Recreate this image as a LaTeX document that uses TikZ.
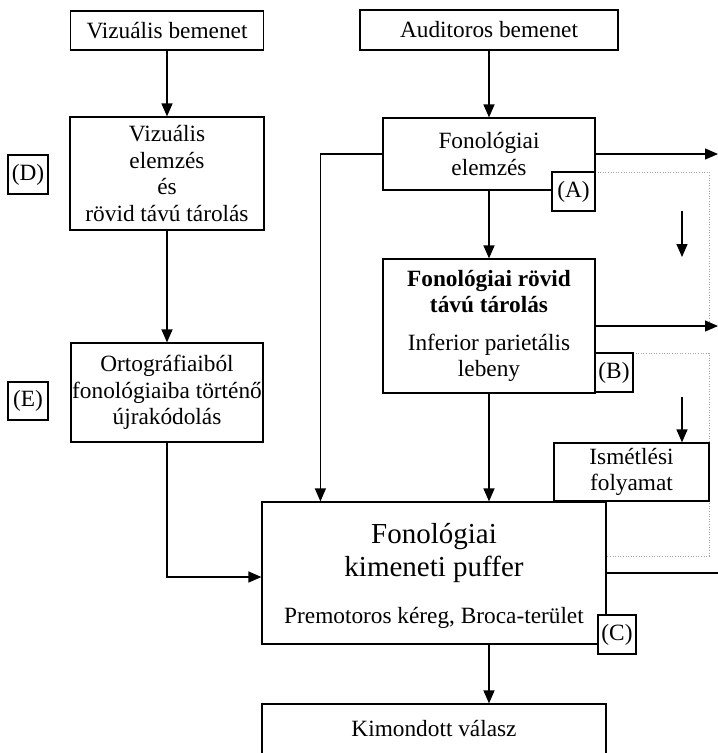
\documentclass[tikz,border=0pt]{standalone}
\usepackage{fontspec}
\setmainfont{Liberation Serif}
\usetikzlibrary{arrows.meta}
\newcommand\fsN{\fontsize{23.3}{26.5}\selectfont}
\newcommand\fsB{\fontsize{29}{33}\selectfont}
\tikzset{
  box/.style={draw, line width=1.2pt, fill=white, inner sep=0pt, align=center, font=\fsN},
  lbl/.style={draw, line width=1.2pt, fill=white, inner sep=0pt, align=center, font=\fsN, minimum width=39pt, minimum height=39pt},
  txt/.style={inner sep=0pt, align=center},
  arr/.style={line width=1.3pt, -{Triangle[length=13pt,width=11pt]}},
  ln/.style={line width=1.3pt},
  dot/.style={line width=0.9pt, gray!70, dash pattern=on 1pt off 1.6pt}
}
\begin{document}
\begin{tikzpicture}[x=1pt,y=-1pt]
\useasboundingbox (0,0) rectangle (718,753);
% coordinates for free ends
\coordinate (outA) at (718,154);
\coordinate (outB) at (718,326);
\coordinate (outC) at (718,573);
\coordinate (dA) at (709,322);
\coordinate (dB) at (709,556);
\coordinate (r1s) at (682,211);
\coordinate (r1e) at (682,257);
\coordinate (r2s) at (682,397);
% dotted feedback lines
\coordinate (dAs) at (595,172);
\coordinate (dBs) at (633,353);
\draw[dot] (dAs) -| (dA);
\draw[dot] (dBs) -| (dB) -- (dB -| 606,0);
% boxes
\node[box, minimum width=193pt, minimum height=39pt] (vin) at (167,30.5) {Vizuális bemenet};
\node[box, minimum width=194pt, minimum height=113pt] (van) at (167,173.5) {Vizuális\\elemzés\\és\\rövid távú tárolás};
\node[box, minimum width=192pt, minimum height=99pt] (orto) at (167,392.5) {Ortográfiaiból\\fonológiaiba történő\\újrakódolás};
\node[box, minimum width=258pt, minimum height=40pt] (ain) at (489,30) {Auditoros bemenet};
\node[box, minimum width=212pt, minimum height=72pt] (fel) at (489,154) {Fonológiai\\elemzés};
\node[box, minimum width=212pt, minimum height=134pt] (frt) at (489,326) {\textbf{Fonológiai rövid}\\\textbf{távú tárolás}\\[11pt]Inferior parietális\\lebeny};
\node[box, minimum width=155pt, minimum height=58pt] (ism) at (631.5,472) {Ismétlési\\folyamat};
\node[box, minimum width=344pt, minimum height=142pt] (puf) at (434,573) {};
\node[txt, font=\fsB] (puft) at (434,553) {Fonológiai\\kimeneti puffer};
\node[txt, font=\fsN] (pufs) at (434,618) {Premotoros kéreg, Broca-terület};
\node[box, minimum width=344pt, minimum height=50pt] (kim) at (434,729) {Kimondott válasz};
% letter labels
\node[lbl, minimum width=43pt] (lA) at (573.5,191.5) {(A)};
\node[lbl, minimum width=38pt] (lB) at (614,372.5) {(B)};
\node[lbl, minimum width=38pt] (lC) at (617,634.5) {(C)};
\node[lbl, minimum width=40pt] (lD) at (28,174.5) {(D)};
\node[lbl, minimum width=40pt, minimum height=38pt] (lE) at (28,401) {(E)};
% connectors
\draw[arr] (vin) -- (van);
\draw[arr] (van) -- (orto);
\draw[arr] (orto.south) |- ([yshift=-4pt]puf.west);
\draw[arr] (ain) -- (fel);
\draw[arr] (fel) -- (frt);
\draw[arr] (frt.south) -- (frt.south |- puf.north);
\draw[arr] (fel.west) -| ([xshift=59pt]puf.north west);
\draw[arr] (fel.east) -- (outA);
\draw[arr] (frt.east) -- (outB);
\draw[ln] (puf.east) -- (outC);
\draw[arr] ([xshift=55pt]puf.south) -- ([xshift=55pt]kim.north);
\draw[arr] (r1s) -- (r1e);
\draw[arr] (r2s) -- (r2s |- ism.north);
\end{tikzpicture}
\end{document}
